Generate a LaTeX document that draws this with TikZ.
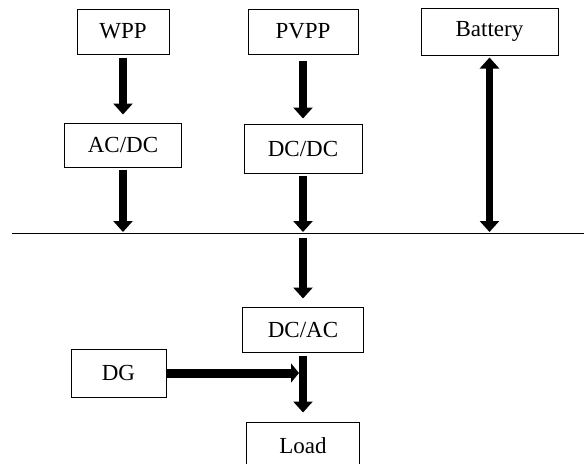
\documentclass[tikz,border=0pt]{standalone}
\usepackage{fontspec}
\setmainfont{Liberation Serif}
\usetikzlibrary{arrows.meta,positioning}

\begin{document}
\begin{tikzpicture}[font=\fontsize{11.5}{13}\selectfont,
   unit/.style={draw,line width=0.5pt,inner sep=0pt,minimum height=22.5pt,align=center},
   flow/.style={line width=3.75pt,-{Triangle[width=9.5pt,length=5.5pt]}},
   dflow/.style={line width=3.75pt,{Triangle[width=9.5pt,length=5.5pt]}-{Triangle[width=9.5pt,length=5.5pt]}},
   bus/.style={line width=0.75pt}]
  \useasboundingbox (0,0) rectangle (292pt,-231.5pt);
  % sources and storage
  \node[unit,minimum width=46pt] (wpp) at (61.5pt,-15.75pt) {WPP};
  \node[unit,minimum width=55pt,right=39pt of wpp] (pvpp) {PVPP};
  \node[unit,minimum width=68.5pt,minimum height=23.5pt,right=31pt of pvpp] (battery) {Battery};
  % converters
  \node[unit,minimum width=58.5pt,minimum height=22pt,below=34pt of wpp] (acdc) {AC/DC};
  \node[unit,minimum width=59pt,minimum height=24.5pt,below=34.5pt of pvpp] (dcdc) {DC/DC};
  \node[unit,minimum width=60.5pt,below=66.5pt of dcdc] (dcac) {DC/AC};
  \node[unit,minimum width=56.5pt,minimum height=24pt,below=34.5pt of dcac] (load) {Load};
  \node[unit,minimum width=47.5pt,minimum height=24pt] (dg) at (59.25pt,-186.5pt) {DG};
  % bus
  \coordinate (busw) at (6pt,-116.75pt);
  \coordinate (buse) at (292pt,-116.75pt);
  \draw[bus] (busw) -- (buse);
  % power flows
  \draw[flow,shorten <=1.5pt,shorten >=4pt] (wpp) -- (acdc);
  \draw[flow,shorten <=1pt,shorten >=0.75pt] (acdc) -- (acdc |- busw);
  \draw[flow,shorten <=3pt,shorten >=2.5pt] (pvpp) -- (dcdc);
  \draw[flow,shorten <=1pt,shorten >=0.75pt] (dcdc) -- (dcdc |- busw);
  \draw[dflow,shorten <=1pt,shorten >=0.75pt] (battery) -- (battery |- busw);
  \draw[flow,shorten <=2.25pt,shorten >=4pt] (dcac |- busw) -- (dcac);
  \draw[flow,shorten <=1.5pt,shorten >=4.5pt] (dcac) -- (load);
  \draw[line width=4.5pt,-{Triangle[width=9.5pt,length=4pt]},shorten >=2pt] (dg) -- (dg -| load);
\end{tikzpicture}
\end{document}
